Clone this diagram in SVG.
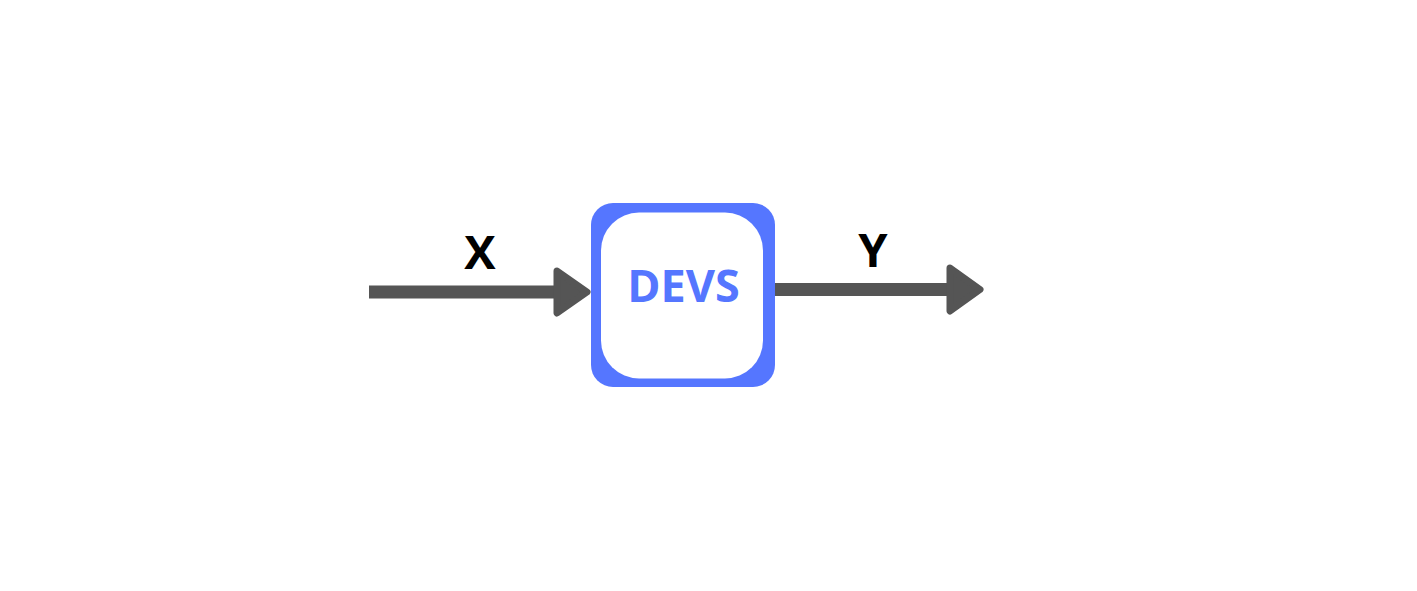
<svg xmlns="http://www.w3.org/2000/svg" width="1417" height="591" viewBox="0 0 1417 591">
<style>
.line{stroke:#555555;stroke-width:13;fill:none}
.head{fill:#555555;stroke:#555555;stroke-width:7;stroke-linejoin:round}
.lbl{font-family:"Open Sans","Noto Sans",sans-serif;font-weight:bold;font-size:47px;fill:#000;text-anchor:middle}
</style>
<rect width="1417" height="591" fill="#ffffff"/>
<g id="connectors">
<g id="edge-x">
<line class="line" x1="369" y1="292" x2="560" y2="292"/>
<path class="head" d="M557,271 L587,292 L557,313 Z"/>
</g>
<g id="edge-y">
<line class="line" x1="774" y1="289.5" x2="952" y2="289.5"/>
<path class="head" d="M950,268 L980,289.5 L950,311 Z"/>
</g>
</g>
<g id="node-devs">
<rect x="591" y="203" width="184" height="184" rx="22" fill="#5576ff"/>
<rect x="601" y="212.5" width="162" height="166" rx="38" fill="#ffffff"/>
<text x="683.5" y="302" font-family="'Open Sans','Noto Sans',sans-serif" font-weight="bold" font-size="45" fill="#5576ff" text-anchor="middle">DEVS</text>
</g>
<text class="lbl" x="480" y="269">X</text>
<text class="lbl" x="873" y="267">Y</text>
</svg>
